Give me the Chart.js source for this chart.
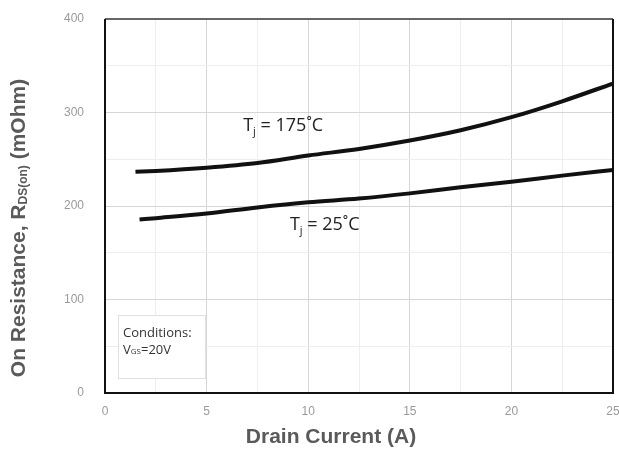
<!DOCTYPE html>
<html>
<head>
<meta charset="utf-8">
<script src="https://cdn.jsdelivr.net/npm/chart.js@4.4.1/dist/chart.umd.min.js"></script>
<style>
  html, body { margin: 0; padding: 0; background: #fff; }
  #chart { display: block; }
</style>
</head>
<body>
<canvas id="chart" width="619" height="452"></canvas>
<script>
// On resistance vs drain current, two junction temperatures
const current175 = [1.5, 2.5, 5, 7.5, 10, 12.5, 15, 17.5, 20, 22.5, 25];
const rds175 = [236.5, 237.5, 241, 246, 254, 261, 270, 281, 295, 312, 331];
const current25 = [1.7, 2.5, 5, 7.5, 10, 12.5, 15, 17.5, 20, 22.5, 25];
const rds25 = [185.5, 187, 192, 198.5, 204, 208, 213.5, 220, 226, 232.5, 238.5];

const xTicks = [0, 5, 10, 15, 20, 25];
const yTicks = [0, 100, 200, 300, 400];

const toPoints = (xs, ys) => xs.map((x, i) => ({ x: x, y: ys[i] }));

// draw a run of text pieces (for subscripts), returns total width
function drawParts(ctx, parts, x, y, measureOnly) {
    let w = 0;
    parts.forEach(p => {
        ctx.font = p.font;
        if (!measureOnly) ctx.fillText(p.t, x + w, y + (p.dy || 0));
        w += ctx.measureText(p.t).width;
    });
    return w;
}

const annotations = {
    id: "annotations",
    afterDraw(chart) {
        const ctx = chart.ctx;
        const xs = chart.scales.x, ys = chart.scales.y;
        const area = chart.chartArea;
        ctx.save();
        ctx.textBaseline = "middle";
        ctx.textAlign = "left";

        // frame
        ctx.lineWidth = 2;
        ctx.strokeStyle = "#666";
        ctx.beginPath();
        ctx.moveTo(area.left, area.top);
        ctx.lineTo(area.right, area.top);
        ctx.stroke();
        ctx.strokeStyle = "#111";
        ctx.beginPath();
        ctx.moveTo(area.right, area.top);
        ctx.lineTo(area.right, area.bottom);
        ctx.lineTo(area.left, area.bottom);
        ctx.lineTo(area.left, area.top);
        ctx.stroke();

        // curve labels
        const big = "18px 'Open Sans'";
        const sub = "11px 'Open Sans'";
        ctx.fillStyle = "#222";
        drawParts(ctx, [{ t: "T", font: big }, { t: "j", font: sub, dy: 6 }, { t: " = 175\u02DAC", font: big }],
            xs.getPixelForValue(6.8), ys.getPixelForValue(286));
        drawParts(ctx, [{ t: "T", font: big }, { t: "j", font: sub, dy: 6 }, { t: " = 25\u02DAC", font: big }],
            xs.getPixelForValue(9.1), ys.getPixelForValue(180));

        // conditions box
        const bx = xs.getPixelForValue(0.64), by = ys.getPixelForValue(83.4);
        const bw = xs.getPixelForValue(4.92) - bx, bh = ys.getPixelForValue(16) - by;
        ctx.fillStyle = "#fff";
        ctx.fillRect(bx, by, bw, bh);
        ctx.lineWidth = 1;
        ctx.strokeStyle = "#e0e0e0";
        ctx.strokeRect(bx + 0.5, by + 0.5, bw, bh);
        ctx.fillStyle = "#333";
        drawParts(ctx, [{ t: "Conditions:", font: "13px 'Open Sans'" }], bx + 5, by + 18);
        drawParts(ctx, [{ t: "V", font: "13px 'Open Sans'" }, { t: "GS", font: "8px 'Open Sans'", dy: 2 },
            { t: "=20V", font: "13px 'Open Sans'" }], bx + 5, by + 35);

        // axis titles
        ctx.fillStyle = "#5a5a5a";
        const tFont = "bold 21px 'Liberation Sans'";
        ctx.font = tFont;
        ctx.textAlign = "center";
        ctx.fillText("Drain Current (A)", 331, 437);

        ctx.textAlign = "left";
        const yParts = [{ t: "On Resistance, R", font: tFont }, { t: "DS(on)", font: "bold 12px 'Liberation Sans'", dy: 5 },
            { t: " (mOhm)", font: tFont }];
        const w = drawParts(ctx, yParts, 0, 0, true);
        ctx.translate(19, 228);
        ctx.rotate(-Math.PI / 2);
        drawParts(ctx, yParts, -w / 2, 0);
        ctx.restore();
    }
};

const lineStyle = {
    borderColor: "#111",
    borderWidth: 4,
    pointRadius: 0,
    fill: false,
    tension: 0.4,
    cubicInterpolationMode: "monotone"
};

new Chart(document.getElementById("chart"), {
    type: "line",
    data: {
        datasets: [
            { label: "Tj=175C", data: toPoints(current175, rds175), ...lineStyle },
            { label: "Tj=25C", data: toPoints(current25, rds25), ...lineStyle }
        ]
    },
    options: {
        responsive: false,
        animation: false,
        layout: { padding: { top: 19, right: 6, left: 0, bottom: 0 } },
        plugins: { legend: { display: false }, tooltip: { enabled: false } },
        scales: {
            x: {
                type: "linear",
                min: 0,
                max: 25,
                border: { display: false },
                grid: {
                    drawTicks: false,
                    color: c => xTicks.includes(c.tick.value) ? "#d6d6d6" : "#eeeeee"
                },
                ticks: {
                    stepSize: 2.5,
                    padding: 11,
                    color: "#9a9a9a",
                    font: { family: "'Liberation Sans'", size: 12 },
                    maxRotation: 0,
                    callback: v => xTicks.includes(v) ? v : ""
                },
                afterFit: s => { s.height = 59; s.paddingLeft = 0; s.paddingRight = 0; }
            },
            y: {
                min: 0,
                max: 400,
                border: { display: false },
                grid: {
                    drawTicks: false,
                    color: c => yTicks.includes(c.tick.value) ? "#d6d6d6" : "#eeeeee"
                },
                ticks: {
                    stepSize: 50,
                    padding: 21,
                    color: "#9a9a9a",
                    font: { family: "'Liberation Sans'", size: 12 },
                    callback: v => yTicks.includes(v) ? v : ""
                },
                afterFit: s => { s.width = 105; s.paddingTop = 0; s.paddingBottom = 0; }
            }
        }
    },
    plugins: [annotations]
});
</script>
</body>
</html>
